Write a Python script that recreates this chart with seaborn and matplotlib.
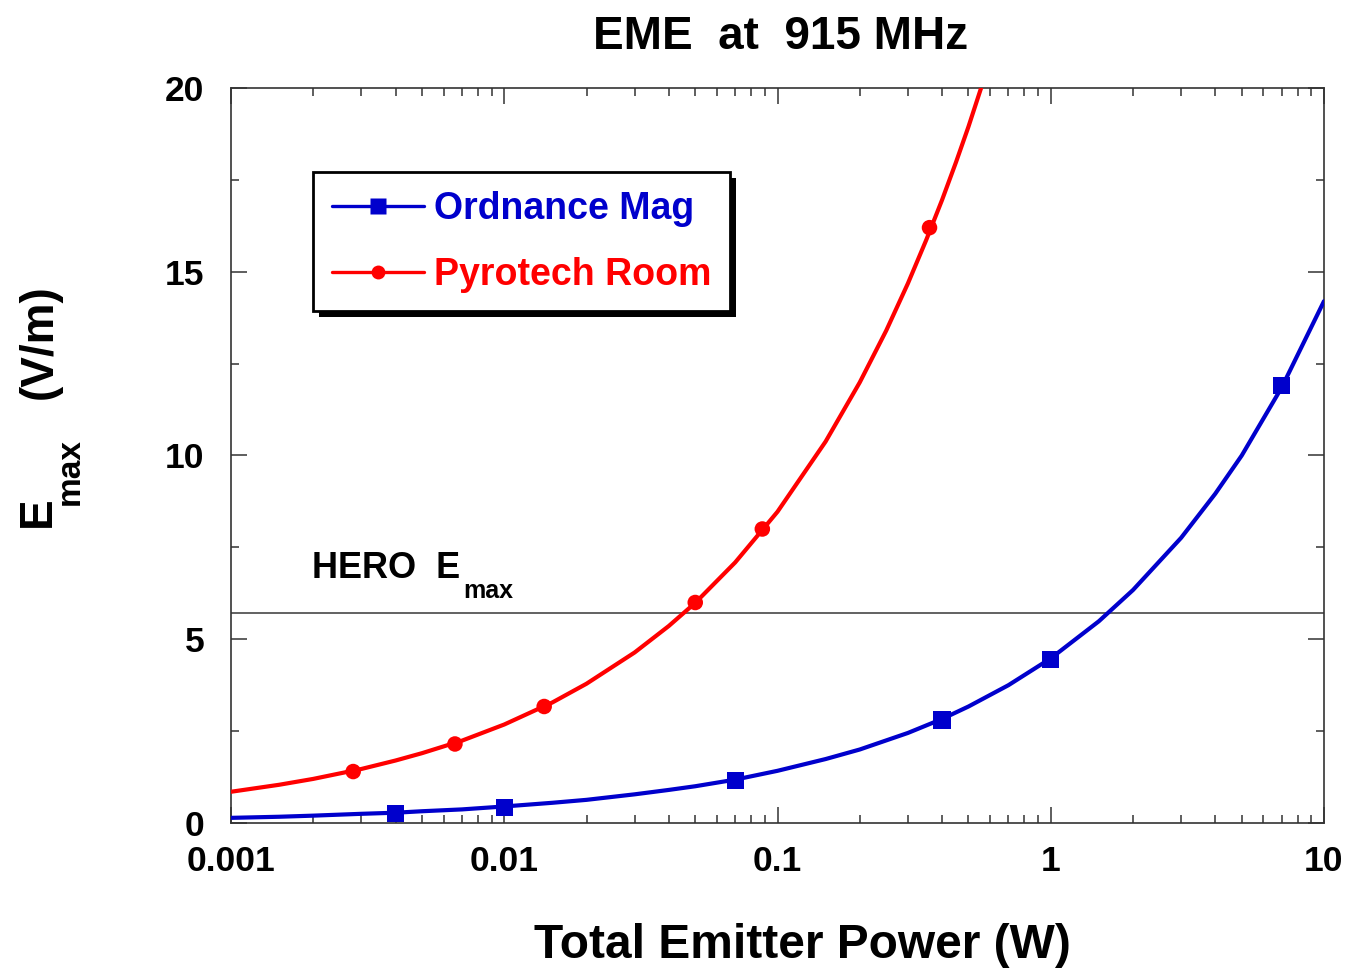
import matplotlib
matplotlib.use("Agg")
import matplotlib.pyplot as plt
import seaborn as sns
import numpy as np
from matplotlib.lines import Line2D
from matplotlib.patches import Rectangle
from matplotlib.ticker import LogLocator, FixedLocator, NullFormatter, FixedFormatter

# Curve data: total emitter power (W) vs maximum field (V/m)
ord_curve_p = [0.001, 0.0015, 0.002, 0.003, 0.004, 0.005, 0.007, 0.01, 0.015, 0.02,
               0.03, 0.04, 0.05, 0.07, 0.1, 0.15, 0.2, 0.3, 0.4, 0.5, 0.7, 1.0,
               1.5, 2.0, 3.0, 4.0, 5.0, 7.0, 10.0]
ord_curve_e = [0.14, 0.17, 0.20, 0.25, 0.28, 0.32, 0.37, 0.45, 0.55, 0.63,
               0.78, 0.90, 1.00, 1.18, 1.42, 1.74, 2.00, 2.45, 2.83, 3.17, 3.75, 4.48,
               5.49, 6.34, 7.76, 8.96, 10.0, 11.85, 14.2]
pyro_curve_p = [0.001, 0.0015, 0.002, 0.003, 0.004, 0.005, 0.007, 0.01, 0.015, 0.02,
                0.03, 0.04, 0.05, 0.07, 0.1, 0.15, 0.2, 0.25, 0.3, 0.35, 0.4, 0.45,
                0.5, 0.556]
pyro_curve_e = [0.85, 1.04, 1.20, 1.47, 1.70, 1.90, 2.24, 2.68, 3.28, 3.79,
                4.64, 5.36, 5.99, 7.09, 8.47, 10.38, 11.99, 13.40, 14.68, 15.86, 16.95, 17.98,
                18.95, 20.0]

# Measured points
ord_pts_p = [0.004, 0.01, 0.07, 0.4, 1.0, 7.0]
ord_pts_e = [0.25, 0.42, 1.15, 2.8, 4.45, 11.9]
pyro_pts_p = [0.0028, 0.0066, 0.014, 0.05, 0.088, 0.36]
pyro_pts_e = [1.4, 2.15, 3.17, 6.0, 8.0, 16.2]

hero_emax = 5.71

series_names = ["Ordnance Mag", "Pyrotech Room"]
x_ticks = [0.001, 0.01, 0.1, 1, 10]
x_ticklabels = ["0.001", "0.01", "0.1", "1", "10"]
y_ticks = [0, 5, 10, 15, 20]

BLUE = "#0000CC"
RED = "#FF0000"
FONT = "Liberation Sans"

sns.set_theme(style="white")
plt.rcParams["font.family"] = [FONT, "DejaVu Sans"]
plt.rcParams["font.weight"] = "bold"
plt.rcParams["text.color"] = "black"
plt.rcParams["xtick.labelcolor"] = "black"
plt.rcParams["ytick.labelcolor"] = "black"

W, H = 1348, 968
fig = plt.figure(figsize=(W / 100, H / 100), dpi=100)
ax = fig.add_axes([231 / W, 1 - 823 / H, (1324 - 231) / W, (823 - 88) / H])
ax.set_facecolor("white")

sns.lineplot(x=ord_curve_p, y=ord_curve_e, ax=ax, color=BLUE, lw=3.0, zorder=3,
             sort=False, estimator=None)
sns.lineplot(x=pyro_curve_p, y=pyro_curve_e, ax=ax, color=RED, lw=3.0, zorder=3,
             sort=False, estimator=None)
sns.scatterplot(x=ord_pts_p, y=ord_pts_e, ax=ax, marker="s", s=155, color=BLUE,
                edgecolor="none", zorder=4)
sns.scatterplot(x=pyro_pts_p, y=pyro_pts_e, ax=ax, marker="o", s=125, color=RED,
                edgecolor="none", zorder=4)

ax.axhline(hero_emax, color="#555555", lw=1.3, zorder=2)

ax.set_xscale("log")
ax.set_xlim(0.001, 10)
ax.set_ylim(0, 20)

ax.xaxis.set_major_locator(FixedLocator(x_ticks))
ax.xaxis.set_major_formatter(FixedFormatter(x_ticklabels))
ax.xaxis.set_minor_locator(LogLocator(base=10, subs=np.arange(2, 10), numticks=20))
ax.xaxis.set_minor_formatter(NullFormatter())
ax.yaxis.set_major_locator(FixedLocator(y_ticks))
ax.yaxis.set_minor_locator(FixedLocator([2.5, 7.5, 12.5, 17.5]))

ax.tick_params(which="both", direction="in", top=True, right=True, bottom=True, left=True,
               color="#333333", width=1.1)
ax.tick_params(which="major", length=11.5, labelsize=25.5)
ax.tick_params(which="minor", length=5.8)
ax.tick_params(axis="x", which="major", pad=16)
ax.tick_params(axis="y", which="major", pad=19)
for lab in ax.get_xticklabels() + ax.get_yticklabels():
    lab.set_fontweight("bold")
    lab.set_color("black")

for sp in ax.spines.values():
    sp.set_color("#333333")
    sp.set_linewidth(1.2)
    sp.set_visible(True)

ax.set_xlabel("")
ax.set_ylabel("")

# Title and axis labels
fig.text(781 / W, 1 - 37 / H, "EME  at  915 MHz", ha="center", va="center",
         fontsize=33, fontweight="bold", color="black")
fig.text(802 / W, 1 - 946 / H, "Total Emitter Power (W)", ha="center", va="center",
         fontsize=34.5, fontweight="bold", color="black")
fig.text(38 / W, 1 - 512 / H, "E", rotation=90, ha="center", va="center",
         fontsize=33, fontweight="bold", color="black")
fig.text(70 / W, 1 - 472 / H, "max", rotation=90, ha="center", va="center",
         fontsize=24, fontweight="bold", color="black")
fig.text(40 / W, 1 - 342 / H, "(V/m)", rotation=90, ha="center", va="center",
         fontsize=33, fontweight="bold", color="black")

# Threshold annotation
ax.text((312 - 231) / (1324 - 231), (823 - 568) / (823 - 88), "HERO  E",
        transform=ax.transAxes, ha="left", va="center", fontsize=26,
        fontweight="bold", color="black")
ax.text((463 - 231) / (1324 - 231), (823 - 591) / (823 - 88), "max",
        transform=ax.transAxes, ha="left", va="center", fontsize=18,
        fontweight="bold", color="black")

# Legend with a solid drop shadow
handles = [
    Line2D([], [], color=BLUE, lw=2.4, marker="s", markersize=12, markeredgecolor="none"),
    Line2D([], [], color=RED, lw=2.4, marker="o", markersize=10, markeredgecolor="none"),
]
leg = ax.legend(handles, series_names, loc="upper left",
                bbox_to_anchor=((313 - 231) / (1324 - 231), (823 - 172) / (823 - 88)),
                borderaxespad=0, frameon=True, fancybox=False, framealpha=1,
                edgecolor="black", prop={"family": FONT, "weight": "bold", "size": 27},
                handlelength=2.45, handletextpad=0.28, labelspacing=0.8, borderpad=0.5)
leg.get_frame().set_linewidth(2.0)
leg.set_zorder(6)
for txt, c in zip(leg.get_texts(), [BLUE, RED]):
    txt.set_color(c)

fig.canvas.draw()
bb = leg.get_frame().get_window_extent()
shadow = Rectangle((bb.x0 + 6, bb.y0 - 6), bb.width, bb.height, transform=None,
                   facecolor="black", edgecolor="none", zorder=5.9, clip_on=False)
ax.add_artist(shadow)

fig.savefig("out.png", dpi=100, facecolor="white")
